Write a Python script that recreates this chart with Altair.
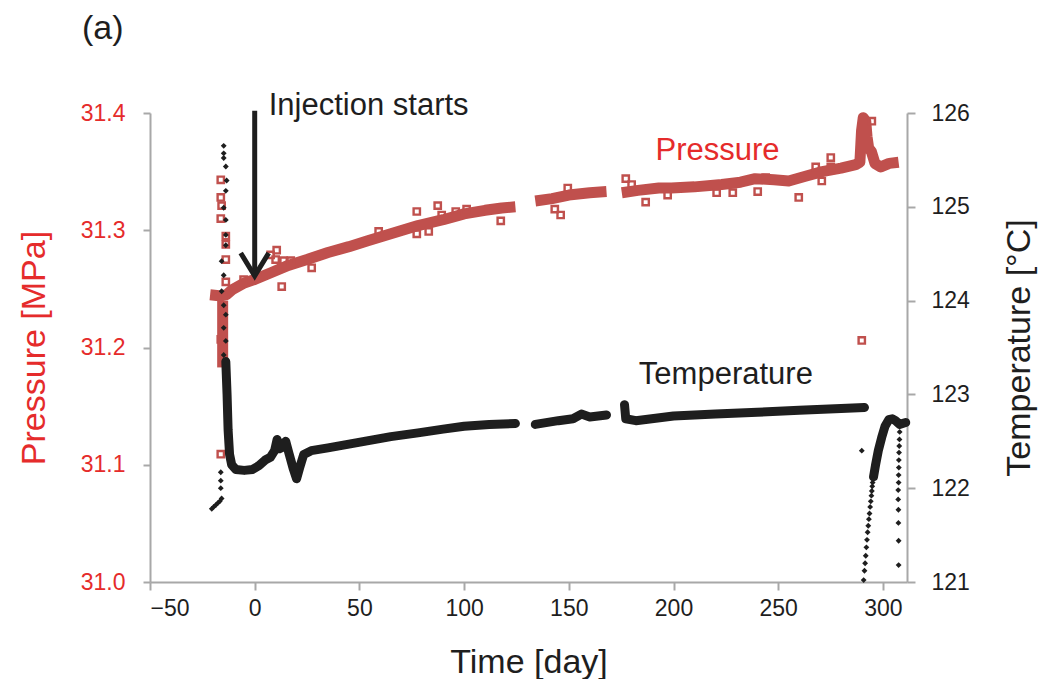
import altair as alt
import pandas as pd

FONT = "Liberation Sans"
P_COLOR = "#C0504D"
P_TEXT = "#E52B2B"
INK = "#1E1E1E"
GRAY = "#A8A8A8"

X_TICKS = [-50, 0, 50, 100, 150, 200, 250, 300]
P_TICKS = [31.0, 31.1, 31.2, 31.3, 31.4]
T_TICKS = [121, 122, 123, 124, 125, 126]

# ---- Pressure: dense band (read as centre line of the band), by segment ----
P_BAND_SEG = (["t"] * 2 + ["a"] * 19 + ["b"] * 5 + ["c"] * 25)
P_BAND_DAY = [-15.3, -15.3,
              -21.3, -16.0, -13.5, -11.0, -5.0, 0.0, 8.0, 16.0, 25.0, 35.0, 45.0,
              54.0, 65.0, 78.0, 90.0, 100.0, 110.0, 118.0, 124.5,
              134.0, 142.0, 150.0, 160.0, 168.0,
              175.3, 183.0, 193.0, 199.0, 210.0, 223.0, 232.0, 239.0, 248.0, 255.0,
              263.0, 271.0, 280.0, 287.0, 289.0, 289.8, 290.6, 291.8, 292.4, 293.2,
              294.5, 296.2, 299.0, 303.0, 307.5]
P_BAND_VAL = [31.240, 31.183,
              31.245, 31.244, 31.245, 31.249, 31.255, 31.258, 31.264, 31.270, 31.275,
              31.281, 31.286, 31.291, 31.297, 31.304, 31.309, 31.314, 31.317, 31.319,
              31.320,
              31.325, 31.327, 31.330, 31.332, 31.333,
              31.332, 31.334, 31.336, 31.336, 31.337, 31.339, 31.341, 31.344, 31.343,
              31.342, 31.346, 31.350, 31.353, 31.356, 31.358, 31.385, 31.396, 31.393,
              31.380, 31.370, 31.367, 31.357, 31.354, 31.357, 31.358]

# ---- Pressure: scattered readings (hollow squares) ----
P_PT_DAY = [-16.2, -16.2, -15.8, -16.2, -13.8, -13.8, -13.8, -13.8, -16.2, -16.2,
            -5.3, 7.6, 10.5, 10.0, 13.8, 17.2, 12.9, 27.2, 59.2, 77.4, 77.4, 83.1,
            87.4, 89.3, 96.0, 101.2, 117.5, 143.3, 146.1, 149.5, 177.2, 180.0,
            186.7, 197.2, 220.6, 228.3, 240.2, 244.0, 259.8, 267.9, 270.8, 275.1,
            275.1, 294.7, 289.9]
P_PT_VAL = [31.343, 31.328, 31.321, 31.310, 31.295, 31.288, 31.275, 31.256, 31.207,
            31.109, 31.258, 31.279, 31.283, 31.275, 31.274, 31.274, 31.252, 31.268,
            31.299, 31.316, 31.297, 31.299, 31.321, 31.313, 31.316, 31.318, 31.308,
            31.318, 31.313, 31.336, 31.344, 31.339, 31.324, 31.330, 31.332, 31.332,
            31.333, 31.345, 31.328, 31.354, 31.342, 31.362, 31.354, 31.393, 31.206]

# ---- Temperature: dense band (centre line), by segment ----
T_BAND_SEG = (["a"] * 31 + ["b"] * 6 + ["c"] * 9 + ["d"] * 10)
T_BAND_DAY = [-13.8, -13.2, -12.7, -12.0, -11.0, -9.0, -5.0, -1.0, 2.0, 5.0, 7.5,
              9.5, 10.7, 11.8, 13.5, 14.8, 16.5, 18.5, 20.0, 21.5, 23.4, 27.0, 35.0,
              45.0, 55.0, 65.0, 78.0, 90.0, 100.0, 112.0, 124.5,
              134.0, 145.0, 152.0, 156.0, 160.0, 168.0,
              176.6, 177.2, 182.0, 200.0, 220.0, 240.0, 260.0, 280.0, 291.2,
              295.5, 296.5, 297.8, 299.4, 301.0, 302.8, 304.5, 306.0, 308.0, 310.9]
T_BAND_VAL = [123.35, 123.00, 122.62, 122.36, 122.25, 122.20, 122.19, 122.20, 122.24,
              122.30, 122.33, 122.40, 122.52, 122.42, 122.44, 122.50, 122.36, 122.20,
              122.10, 122.22, 122.36, 122.40, 122.43, 122.47, 122.51, 122.55, 122.59,
              122.63, 122.66, 122.68, 122.69,
              122.68, 122.72, 122.74, 122.79, 122.76, 122.78,
              122.89, 122.74, 122.72, 122.77, 122.79, 122.81, 122.83, 122.85, 122.86,
              122.12, 122.25, 122.40, 122.54, 122.66, 122.73, 122.74, 122.72, 122.68,
              122.70]

# ---- Temperature: scattered readings ----
T_PT_DAY = [-14.8, -14.8, -14.8, -13.8, -13.4, -13.8, -14.8, -13.8, -13.8, -13.8,
            -15.8, -14.8, -15.8, -14.8, -13.8, -14.8, -13.8, -14.8,
            -20.5, -19.6, -18.6, -17.7, -16.7, -15.8, -16.2, -16.2, -16.2,
            289.9,
            290.8, 291.2, 291.5, 291.8, 292.1, 292.4, 292.7, 293.0, 293.3, 293.6,
            293.9, 294.2, 294.5, 294.7, 294.9, 295.1, 295.4,
            307.5, 307.5, 307.4, 307.4, 307.3, 307.3, 307.5, 307.5, 307.6, 307.6,
            307.7, 307.8, 307.9, 308.0]
T_PT_VAL = [125.65, 125.57, 125.52, 125.43, 125.28, 125.17, 124.99, 124.86, 124.70,
            124.59, 124.42, 124.27, 124.10, 123.95, 123.85, 123.71, 123.57, 123.42,
            121.78, 121.80, 121.82, 121.84, 121.86, 121.89, 122.17, 122.08, 122.00,
            122.40,
            121.02, 121.12, 121.20, 121.28, 121.37, 121.45, 121.53, 121.60, 121.67,
            121.73, 121.80, 121.86, 121.92, 121.97, 122.02, 122.06, 122.10,
            121.18, 121.44, 121.63, 121.77, 121.88, 121.98, 122.06, 122.14, 122.22,
            122.30, 122.38, 122.45, 122.52, 122.60]

# ---- Annotations ----
ARROW_DAY = [0.0]
ARROW_TOP = [31.402]
ARROW_END = [31.263]
ARROW_TIP = [31.261]
INJ_LABEL = ["Injection starts"]
INJ_DAY = [6.7]
INJ_P = [31.398]
P_LABEL = ["Pressure"]
P_LABEL_DAY = [221.0]
P_LABEL_P = [31.360]
T_LABEL = ["Temperature"]
T_LABEL_DAY = [225.0]
T_LABEL_T = [123.11]

p_band = pd.DataFrame({"seg": P_BAND_SEG, "day": P_BAND_DAY, "p": P_BAND_VAL,
                       "i": list(range(len(P_BAND_DAY)))})
p_pts = pd.DataFrame({"day": P_PT_DAY, "p": P_PT_VAL})
t_band = pd.DataFrame({"seg": T_BAND_SEG, "day": T_BAND_DAY, "t": T_BAND_VAL,
                       "i": list(range(len(T_BAND_DAY)))})
t_pts = pd.DataFrame({"day": T_PT_DAY, "t": T_PT_VAL})
arrow = pd.DataFrame({"day": ARROW_DAY, "p": ARROW_TOP, "p2": ARROW_END})
arrow_tip = pd.DataFrame({"day": ARROW_DAY, "p": ARROW_TIP})
inj = pd.DataFrame({"day": INJ_DAY, "p": INJ_P, "label": INJ_LABEL})
plab = pd.DataFrame({"day": P_LABEL_DAY, "p": P_LABEL_P, "label": P_LABEL})
tlab = pd.DataFrame({"day": T_LABEL_DAY, "t": T_LABEL_T, "label": T_LABEL})

X = alt.X("day:Q",
          scale=alt.Scale(domain=[-50, 311.5], nice=False, zero=False),
          axis=alt.Axis(values=X_TICKS, title="Time [day]", tickSize=8,
                        labelPadding=7, titlePadding=25, labelColor=INK,
                        titleColor=INK))
YP = alt.Y("p:Q",
           scale=alt.Scale(domain=[31.0, 31.4], nice=False, zero=False),
           axis=alt.Axis(orient="left", values=P_TICKS, format=".1f",
                         title="Pressure [MPa]", tickSize=7, labelPadding=18,
                         titlePadding=29, labelColor=P_TEXT, titleColor=P_TEXT))
YT = alt.Y("t:Q",
           scale=alt.Scale(domain=[121, 126], nice=False, zero=False),
           axis=alt.Axis(orient="right", values=T_TICKS, format="d",
                         title="Temperature [°C]", tickSize=8, labelPadding=16,
                         titlePadding=33, titleAngle=270, titleBaseline="top",
                         labelColor=INK, titleColor=INK))

p_line = alt.Chart(p_band).mark_line(
    color=P_COLOR, strokeWidth=11, strokeCap="butt", strokeJoin="round"
).encode(x=X, y=YP, detail="seg:N", order="i:Q")
p_sq = alt.Chart(p_pts).mark_point(
    shape="square", filled=False, color=P_COLOR, size=40, strokeWidth=2.4, opacity=1
).encode(x=X, y=YP)
arrow_shaft = alt.Chart(arrow).mark_rule(color=INK, strokeWidth=5).encode(
    x=X, y=YP, y2="p2:Q")
arrow_head = alt.Chart(arrow_tip).mark_point(
    shape="M-0.7,-1.15L0,0L0.7,-1.15", filled=False, strokeWidth=5, size=1600,
    color=INK, opacity=1
).encode(x=X, y=YP)
inj_text = alt.Chart(inj).mark_text(
    align="left", baseline="alphabetic", font=FONT, fontSize=31, color=INK
).encode(x=X, y=YP, text="label:N")
p_text = alt.Chart(plab).mark_text(
    align="center", baseline="alphabetic", font=FONT, fontSize=31, color=P_TEXT
).encode(x=X, y=YP, text="label:N")

t_line = alt.Chart(t_band).mark_line(
    color=INK, strokeWidth=9, strokeCap="round", strokeJoin="round"
).encode(x=X, y=YT, detail="seg:N", order="i:Q")
t_dots = alt.Chart(t_pts).mark_point(
    shape="diamond", filled=True, color=INK, size=34, opacity=1
).encode(x=X, y=YT)
t_text = alt.Chart(tlab).mark_text(
    align="center", baseline="alphabetic", font=FONT, fontSize=31, color=INK
).encode(x=X, y=YT, text="label:N")

pressure = alt.layer(p_line, p_sq, arrow_shaft, arrow_head, inj_text, p_text)
temperature = alt.layer(t_line, t_dots, t_text)

chart = alt.layer(pressure, temperature).resolve_scale(y="independent").properties(
    width=757, height=469,
    padding={"left": 9, "right": 3, "top": 4, "bottom": 0},
    title=alt.TitleParams("(a)", anchor="start", frame="group", fontSize=34,
                          font=FONT, fontWeight="normal", color=INK, offset=44,
                          dx=-68),
).configure_view(strokeWidth=0).configure_axis(
    grid=False, domainColor=GRAY, tickColor=GRAY, domainWidth=2, tickWidth=2,
    labelFont=FONT, titleFont=FONT, labelFontSize=23, titleFontSize=34,
    titleFontWeight="normal",
)

chart.save("out.html", embed_options={"renderer": "svg", "actions": False})
